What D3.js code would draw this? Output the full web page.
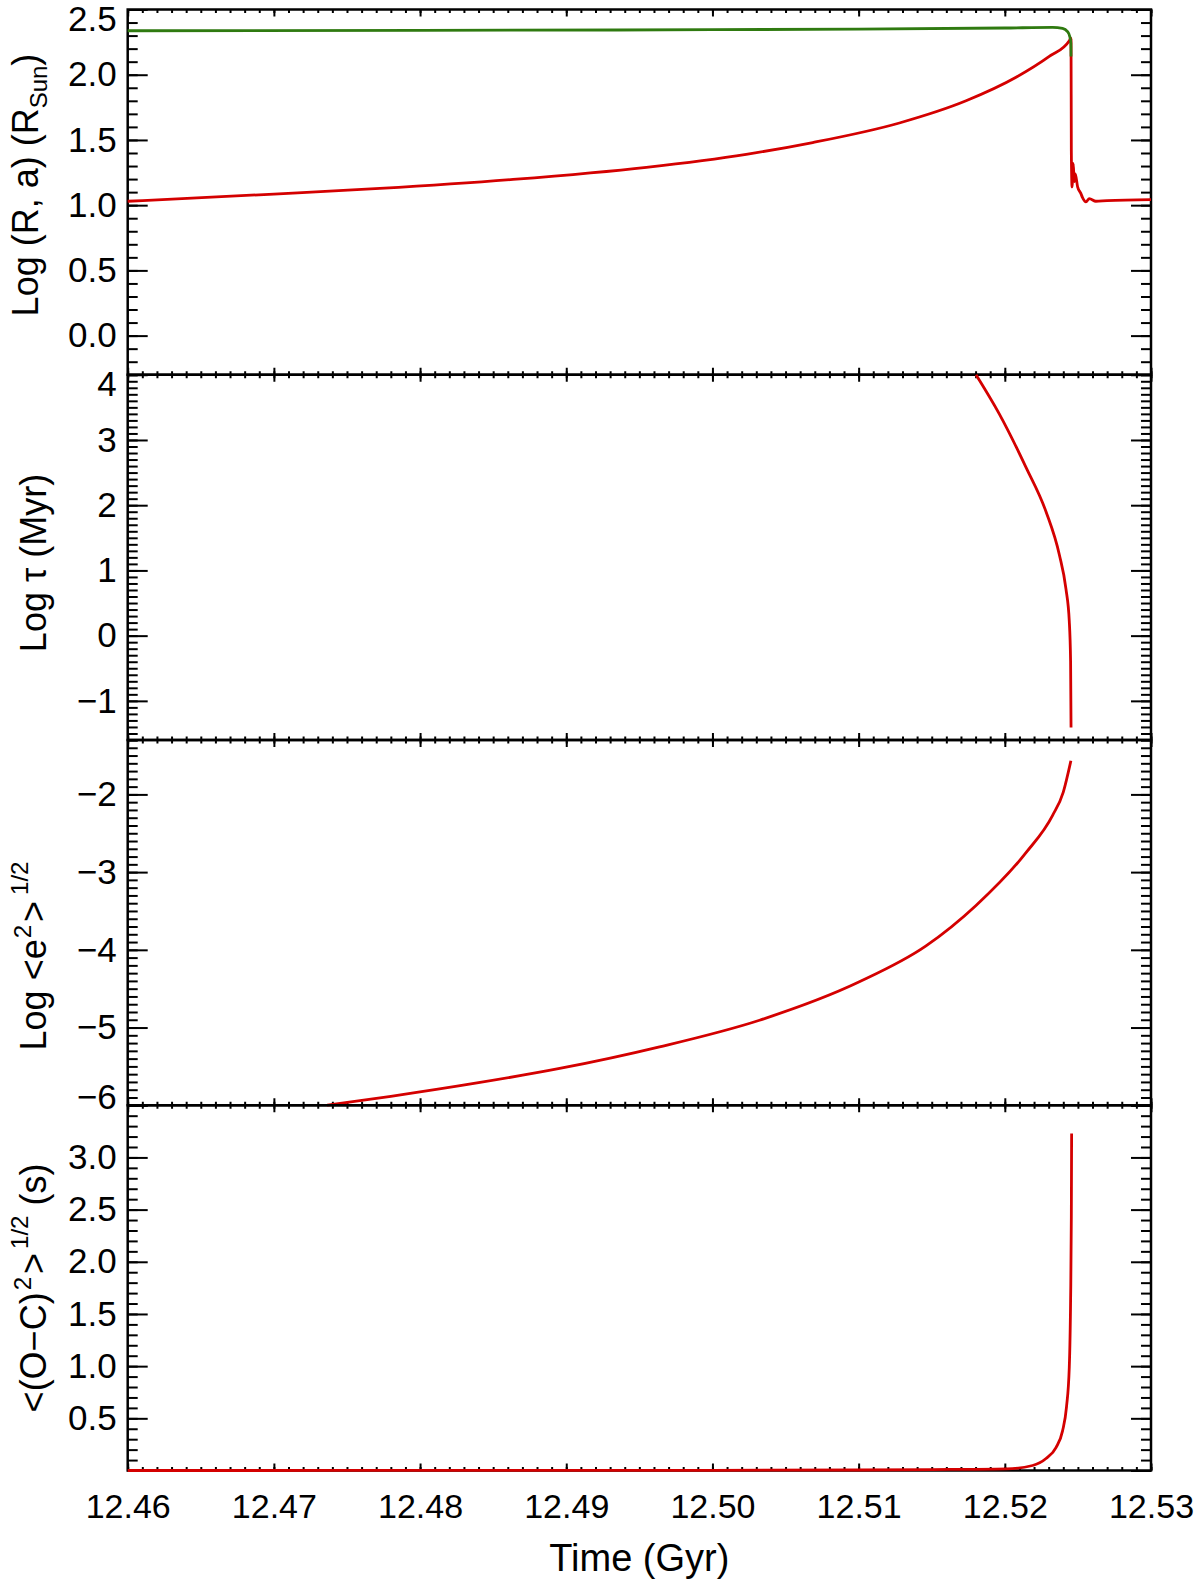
<!DOCTYPE html>
<html>
<head>
<meta charset="utf-8">
<script src="https://cdnjs.cloudflare.com/ajax/libs/d3/7.8.5/d3.min.js"></script>
<style>
  body { margin: 0; background: #fff; }
  svg { display: block; }
  text { font-family: "Liberation Sans", Arial, Helvetica, sans-serif; fill: #000; }
</style>
</head>
<body>
<svg width="1200" height="1579"></svg>
<script>

// time axis (Gyr)
var timeTicks = [12.46, 12.47, 12.48, 12.49, 12.50, 12.51, 12.52, 12.53];

// panel 1: stellar radius (red) and orbit (green), log Rsun
var starTime = [12.46, 12.47, 12.47725, 12.48636, 12.49548, 12.50231, 12.50686, 12.51279, 12.51735,
                12.52077, 12.52304, 12.52441, 12.52450, 12.52453, 12.52455, 12.52460, 12.52468, 12.52475,
                12.52482, 12.52498, 12.52520, 12.52531, 12.52555, 12.52578, 12.52623, 12.527, 12.53];
var starLogR = [1.03, 1.085, 1.128, 1.197, 1.29, 1.39, 1.48, 1.63, 1.80,
                1.98, 2.14, 2.26, 2.28, 2.27, 1.42, 1.14, 1.32, 1.18,
                1.24, 1.14, 1.09, 1.06, 1.025, 1.05, 1.03, 1.035, 1.042];
var orbitTime = [12.46, 12.48, 12.50, 12.51, 12.52, 12.52327, 12.52395, 12.52429, 12.52445, 12.52452, 12.52453];
var orbitLogA = [2.337, 2.340, 2.345, 2.350, 2.358, 2.363, 2.355, 2.33, 2.29, 2.24, 2.14];

// panel 2: log tau (Myr)
var tauTime = [12.51803, 12.51962, 12.52145, 12.52282, 12.52373, 12.52418, 12.52441, 12.52450, 12.52453];
var tauLog  = [4.0, 3.40, 2.58, 1.90, 1.24, 0.72, 0.22, -0.40, -1.41];

// panel 3: log <e^2>^1/2
var eccTime = [12.47364, 12.478, 12.484, 12.48955, 12.49638, 12.50322, 12.51005, 12.51461, 12.51803, 12.52145, 12.52327, 12.5240, 12.52452];
var eccLog  = [-6.0, -5.885, -5.71, -5.527, -5.249, -4.906, -4.412, -3.95, -3.43, -2.75, -2.27, -1.97, -1.567];

// panel 4: <(O-C)^2>^1/2 (s)
var ocTime = [12.46, 12.49, 12.50, 12.51, 12.515, 12.5201, 12.5219, 12.52282, 12.5235, 12.52395, 12.52422, 12.52441, 12.5245, 12.52455, 12.52457];
var ocRms  = [0, 0.001, 0.002, 0.005, 0.009, 0.016, 0.048, 0.115, 0.22, 0.38, 0.61, 0.99, 1.63, 2.43, 3.23];

// y tick labels
var radiusTicks = [0.0, 0.5, 1.0, 1.5, 2.0, 2.5];
var tauTicks = [-1, 0, 1, 2, 3, 4];
var eccTicks = [-6, -5, -4, -3, -2];
var ocTicks = [0.5, 1.0, 1.5, 2.0, 2.5, 3.0];

var red = "#d40000", green = "#2f7a10";

var svg = d3.select("svg");
var left = 127.7, right = 1151, top0 = 9.5, bottom = 1470.5;
var ph = (bottom - top0) / 4;

var x = d3.scaleLinear().domain([12.46, 12.53]).range([left, right]);

function zip(t, v) { return t.map(function(d, i) { return [d, v[i]]; }); }

// title segments: [text, kind, dx]
var panels = [
  { domain: [-0.3, 2.5], ticks: radiusTicks, fmt: d3.format(".1f"), titleX: 38, titleY: 185,
    title: [["Log (R, a) (R"], ["Sun", "sub"], [")"]],
    series: [[starTime, starLogR, red], [orbitTime, orbitLogA, green]] },
  { domain: [-1.6, 4.0], ticks: tauTicks, fmt: d3.format("d"), titleX: 46, titleY: 563,
    title: [["Log \u03c4 (Myr)"]],
    series: [[tauTime, tauLog, red]] },
  { domain: [-6.0, -1.3], ticks: eccTicks, fmt: d3.format("d"), titleX: 46, titleY: 956,
    title: [["Log <e"], ["2", "sup", 1], [">", null, 3], ["1/2", "sup2", 6]],
    series: [[eccTime, eccLog, red]] },
  { domain: [0, 3.5], ticks: ocTicks, fmt: d3.format(".1f"), titleX: 46, titleY: 1288,
    title: [["<(O\u2212C)"], ["2", "sup", 2], [">", null, 3], ["1/2", "sup2", 4], [" (s)"]],
    series: [[ocTime, ocRms, red]] }
];

function minorValues(lo, hi, step) {
  var out = [];
  var n = Math.round((hi - lo) / step);
  for (var i = 0; i <= n; i++) out.push(+(lo + i * step).toFixed(6));
  return out;
}

function styleAxis(g) {
  g.attr("font-size", null).attr("font-family", null);
  g.select(".domain").remove();
  g.selectAll("line").attr("stroke", "#000").attr("stroke-width", 2);
}

var xMinor = minorValues(12.46, 12.53, 0.001);

panels.forEach(function(p, i) {
  var pt = top0 + i * ph, pb = pt + ph;
  var y = d3.scaleLinear().domain(p.domain).range([pb, pt]);
  var g = svg.append("g");
  var step = p.ticks[1] - p.ticks[0];

  var yMinor = minorValues(Math.ceil(p.domain[0] * 10 - 1e-6) / 10, Math.floor(p.domain[1] * 10 + 1e-6) / 10, 0.1);
  var yMajor = d3.range(Math.ceil(p.domain[0] / step - 1e-6), Math.floor(p.domain[1] / step + 1e-6) + 1)
                 .map(function(k) { return +(k * step).toFixed(6); });

  // y ticks, left and right, pointing in
  g.append("g").attr("transform", "translate(" + left + ",0)")
    .call(d3.axisLeft(y).tickValues(yMinor).tickSize(-10).tickFormat(""))
    .call(styleAxis);
  g.append("g").attr("transform", "translate(" + right + ",0)")
    .call(d3.axisRight(y).tickValues(yMinor).tickSize(-10).tickFormat(""))
    .call(styleAxis);
  g.append("g").attr("transform", "translate(" + right + ",0)")
    .call(d3.axisRight(y).tickValues(yMajor).tickSize(-20).tickFormat(""))
    .call(styleAxis);
  var yl = g.append("g").attr("transform", "translate(" + left + ",0)")
    .call(d3.axisLeft(y).tickValues(yMajor).tickSize(-20).tickPadding(11)
      .tickFormat(function(d) { return p.ticks.indexOf(d) >= 0 ? p.fmt(d) : ""; }))
    .call(styleAxis);
  yl.selectAll("text")
    .attr("font-size", 35)
    .attr("y", function(d) {
      var py = y(d);
      if (py - pt < 4) return 10;
      if (pb - py < 4) return -8;
      return 0;
    });

  // x ticks, top and bottom, pointing in
  [["axisTop", pt], ["axisBottom", pb]].forEach(function(a) {
    g.append("g").attr("transform", "translate(0," + a[1] + ")")
      .call(d3[a[0]](x).tickValues(xMinor).tickSize(-3.5).tickFormat(""))
      .call(styleAxis);
    var ax = g.append("g").attr("transform", "translate(0," + a[1] + ")")
      .call(d3[a[0]](x).tickValues(timeTicks).tickSize(-7).tickPadding(23)
        .tickFormat(i === 3 && a[0] === "axisBottom" ? d3.format(".2f") : ""))
      .call(styleAxis);
    ax.selectAll("text").attr("font-size", 34);
  });

  // frame
  g.append("rect")
    .attr("x", left).attr("y", pt)
    .attr("width", right - left).attr("height", ph)
    .attr("fill", "none").attr("stroke", "#000").attr("stroke-width", 2.5);

  // data
  var clipId = "clip" + i;
  svg.append("clipPath").attr("id", clipId)
    .append("rect").attr("x", left - 2).attr("y", pt - 2)
    .attr("width", right - left + 4).attr("height", ph + 4);

  var line = d3.line()
    .x(function(d) { return x(d[0]); })
    .y(function(d) { return y(d[1]); })
    .curve(d3.curveMonotoneX);

  p.series.forEach(function(s) {
    g.append("path")
      .datum(zip(s[0], s[1]))
      .attr("clip-path", "url(#" + clipId + ")")
      .attr("fill", "none")
      .attr("stroke", s[2])
      .attr("stroke-width", 2.8)
      .attr("stroke-linejoin", "round")
      .attr("d", line);
  });

  // y title
  var tt = svg.append("text")
    .attr("transform", "translate(" + p.titleX + "," + p.titleY + ") rotate(-90)")
    .attr("text-anchor", "middle")
    .attr("font-size", 36);
  var shift = 0;
  p.title.forEach(function(seg) {
    var want = seg[1] === "sub" ? 9 : seg[1] === "sup" ? -15 : seg[1] === "sup2" ? -18 : 0;
    var ts = tt.append("tspan").text(seg[0]).attr("dy", want - shift);
    if (seg[2]) ts.attr("dx", seg[2]);
    if (seg[1]) ts.attr("font-size", 24);
    shift = want;
  });
});

svg.append("text")
  .attr("x", (left + right) / 2)
  .attr("y", 1571)
  .attr("text-anchor", "middle")
  .attr("font-size", 38)
  .text("Time (Gyr)");

</script>
</body>
</html>
